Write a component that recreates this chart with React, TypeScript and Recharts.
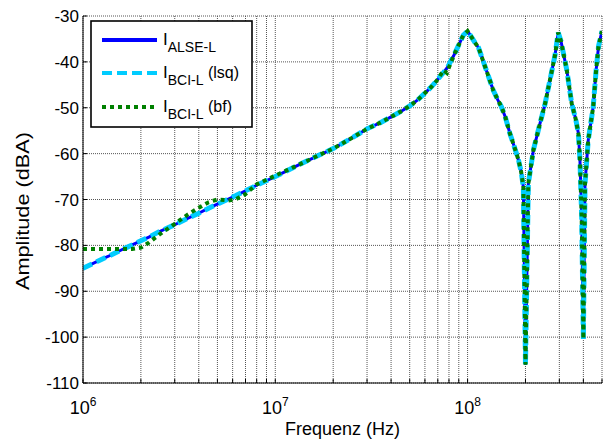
import React from 'react';
import { LineChart, Line, XAxis, YAxis, CartesianGrid, Label } from 'recharts';

// Frequenz (Hz) und Amplituden (dBA)
const freqHz = [
  1.0e6, 1.2e6, 1.4e6, 1.6e6, 1.8e6, 2.0e6, 2.2e6, 2.5e6, 3.0e6, 3.5e6, 4.0e6, 4.5e6, 5.0e6, 5.7e6, 6.2e6, 7.0e6, 8.0e6,
  1.0e7, 1.3e7, 1.6e7, 2.0e7, 2.5e7, 3.0e7, 3.5e7, 4.0e7, 4.5e7, 5.0e7, 5.5e7, 6.0e7, 6.5e7, 7.0e7, 7.5e7, 7.8e7, 8.0e7,
  8.5e7, 9.0e7, 9.5e7, 1.0e8, 1.04e8, 1.1e8, 1.14e8, 1.2e8, 1.28e8, 1.36e8, 1.44e8, 1.5e8, 1.57e8, 1.66e8, 1.75e8,
  1.84e8, 1.9e8, 1.95e8, 2.0e8, 2.07e8, 2.2e8, 2.38e8, 2.53e8, 2.68e8, 2.85e8, 2.96e8, 3.06e8, 3.28e8, 3.48e8, 3.65e8,
  3.77e8, 3.84e8, 3.92e8, 4.0e8, 4.08e8, 4.24e8, 4.5e8, 4.66e8, 4.8e8, 5.0e8,
];
const alseL = [
  -85.0, -83.4, -82.1, -80.9, -79.9, -79.0, -78.2, -77.0, -75.5, -74.1, -73.0, -71.9, -71.0, -69.9, -69.2, -68.1, -66.9,
  -65.0, -62.6, -60.8, -58.9, -56.6, -54.6, -53.3, -52.0, -50.8, -49.6, -48.3, -46.8, -45.4, -43.8, -42.3, -41.4, -40.6,
  -38.5, -36.3, -34.2, -33.3, -34.4, -36.0, -36.9, -39.6, -43.0, -46.2, -48.4, -49.8, -52.0, -55.6, -58.5,
  -61.4, -64.0, -67.3, -106.0, -66.5, -59.2, -53.4, -49.1, -44.0, -38.5, -33.6, -35.5, -41.8, -49.1, -52.5,
  -55.6, -61.4, -73.8, -100.4, -66.5, -57.1, -49.8, -41.8, -36.5, -33.3,
];
const bciLsq = [
  -85.0, -83.4, -82.1, -80.9, -79.9, -79.0, -78.2, -77.0, -75.5, -74.1, -73.0, -71.9, -71.0, -69.9, -69.2, -68.1, -66.9,
  -65.0, -62.6, -60.8, -58.9, -56.6, -54.6, -53.3, -52.0, -50.8, -49.6, -48.3, -46.8, -45.4, -43.8, -42.3, -41.4, -40.6,
  -38.5, -36.3, -34.2, -33.3, -34.4, -36.0, -36.9, -39.6, -43.0, -46.2, -48.4, -49.8, -52.0, -55.6, -58.5,
  -61.4, -64.0, -67.3, -106.0, -66.5, -59.2, -53.4, -49.1, -44.0, -38.5, -33.6, -35.5, -41.8, -49.1, -52.5,
  -55.6, -61.4, -73.8, -100.4, -66.5, -57.1, -49.8, -41.8, -36.5, -33.3,
];
const bciBf = [
  -80.8, -80.8, -80.8, -80.8, -80.8, -80.5, -79.4, -77.6, -75.3, -73.3, -71.8, -70.6, -70.0, -70.2, -70.0, -68.8, -66.7,
  -64.8, -62.6, -60.8, -58.9, -56.6, -54.6, -53.3, -52.0, -50.8, -49.6, -48.3, -46.8, -45.4, -43.8, -41.8, -42.4, -41.2,
  -38.5, -36.3, -34.2, -33.3, -34.4, -36.0, -36.9, -39.6, -43.0, -46.2, -48.4, -49.8, -52.0, -55.6, -58.5,
  -61.4, -64.0, -67.3, -106.0, -66.5, -59.2, -53.4, -49.1, -44.0, -38.5, -33.6, -35.5, -41.8, -49.1, -52.5,
  -55.6, -61.4, -73.8, -100.4, -66.5, -57.1, -49.8, -41.8, -36.5, -33.3,
];

const xTicks = [
  1e6, 2e6, 3e6, 4e6, 5e6, 6e6, 7e6, 8e6, 9e6,
  1e7, 2e7, 3e7, 4e7, 5e7, 6e7, 7e7, 8e7, 9e7,
  1e8, 2e8, 3e8, 4e8, 5e8,
];
const decadeTicks = [1e6, 1e7, 1e8];
const decadeExps = ['6', '7', '8'];
const yTicks = [-110, -100, -90, -80, -70, -60, -50, -40, -30];

const FONT = '"Liberation Sans", Arial, Helvetica, sans-serif';

const data = freqHz.map((f, i) => ({ f, alse: alseL[i], lsq: bciLsq[i], bf: bciBf[i] }));

const DecadeTick = (props: any) => {
  const { x, y, payload } = props;
  const i = decadeTicks.indexOf(payload.value);
  if (i < 0) return null;
  return (
    <text x={x} y={y + 31} textAnchor="middle" fontSize={18} fill="#000">
      10<tspan dy={-8} fontSize={12}>{decadeExps[i]}</tspan>
    </text>
  );
};

// MATLAB-Beschriftung wirkt leicht gestreckt, daher textLength
const YTitle = () => (
  <text
    x={29}
    y={211}
    transform="rotate(-90, 29, 211)"
    textAnchor="middle"
    fontSize={18}
    fill="#000"
    textLength={158}
    lengthAdjust="spacingAndGlyphs"
  >
    Amplitude (dBA)
  </text>
);

function LegendBox() {
  const rows = [
    { y: 40, color: '#0000ff', dash: undefined as string | undefined, sub: 'ALSE-L', tail: '' },
    { y: 73, color: '#00ccff', dash: '10 5', sub: 'BCI-L', tail: '(lsq)' },
    { y: 107, color: '#008000', dash: '4 4', sub: 'BCI-L', tail: '(bf)' },
  ];
  return (
    <svg width={604} height={441} style={{ position: 'absolute', left: 0, top: 0, pointerEvents: 'none' }}>
      <rect x={91} y={21} width={161} height={106} fill="#fff" stroke="#000" strokeWidth={1.6} />
      {rows.map((r) => (
        <g key={r.y}>
          <line x1={102} x2={157} y1={r.y} y2={r.y} stroke={r.color} strokeWidth={4} strokeDasharray={r.dash} />
          <text x={163} y={r.y + 5} fontSize={17} fill="#000" fontFamily={FONT}>
            I<tspan dy={7} fontSize={14}>{r.sub}</tspan>
            {r.tail ? <tspan dy={-7} fontSize={16}>{' ' + r.tail}</tspan> : null}
          </text>
        </g>
      ))}
    </svg>
  );
}

export default function App() {
  return (
    <div style={{ position: 'fixed', left: 0, top: 0, width: 604, height: 441, background: '#fff', fontFamily: FONT }}>
      <LineChart width={604} height={441} data={data} margin={{ top: 16, right: 2, bottom: 0, left: 0 }}>
        <CartesianGrid stroke="#555" strokeDasharray="1 1" strokeWidth={1} />
        <XAxis
          dataKey="f"
          type="number"
          scale="log"
          domain={[1e6, 5e8]}
          allowDataOverflow
          ticks={xTicks}
          height={58}
          stroke="#000"
          tickSize={-4}
          tickMargin={4}
          tick={<DecadeTick />}
          interval={0}
        >
          <Label value="Frequenz (Hz)" position="insideBottom" offset={6} fill="#000" fontSize={18} />
        </XAxis>
        <XAxis
          xAxisId="top"
          orientation="top"
          dataKey="f"
          type="number"
          scale="log"
          domain={[1e6, 5e8]}
          allowDataOverflow
          ticks={xTicks}
          height={0}
          stroke="#000"
          tickSize={-4}
          tick={false}
          interval={0}
        />
        <YAxis
          type="number"
          domain={[-110, -30]}
          ticks={yTicks}
          width={83}
          stroke="#000"
          tickSize={-4}
          tickMargin={8}
          tick={{ fill: '#000', fontSize: 17 }}
          interval={0}
        >
          <Label content={<YTitle />} />
        </YAxis>
        <YAxis
          yAxisId="right"
          orientation="right"
          type="number"
          domain={[-110, -30]}
          ticks={yTicks}
          width={0}
          stroke="#000"
          tickSize={-4}
          tick={false}
          interval={0}
        />
        <Line dataKey="alse" type="linear" stroke="#0000ff" strokeWidth={3} dot={false} isAnimationActive={false} />
        <Line dataKey="lsq" type="linear" stroke="#00ccff" strokeWidth={5} strokeDasharray="10 5" dot={false} isAnimationActive={false} />
        <Line dataKey="bf" type="linear" stroke="#008000" strokeWidth={4} strokeDasharray="4 4" dot={false} isAnimationActive={false} />
      </LineChart>
      <LegendBox />
    </div>
  );
}
